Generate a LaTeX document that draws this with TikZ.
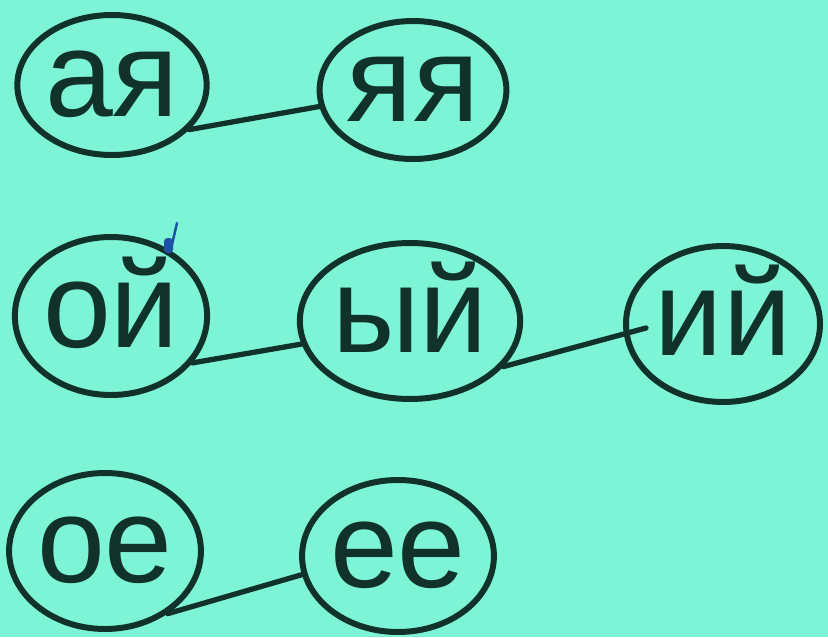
\documentclass[tikz,border=0pt]{standalone}
\usepackage{fontspec}
\newfontfamily\wordfont{Liberation Sans}
\usetikzlibrary{shapes.geometric}
\definecolor{mint}{RGB}{125,244,214}
\definecolor{ink}{RGB}{16,50,42}
\definecolor{penblue}{RGB}{30,80,165}
\begin{document}
\begin{tikzpicture}[line cap=round,line join=round,
		ring/.style 2 args={ellipse,draw=ink,line width=1.7pt,inner sep=0pt,minimum width=#1cm,minimum height=#2cm,text=ink,text height=18pt,text depth=0pt,font=\wordfont\fontsize{34.7}{40}\selectfont},
		link/.style={draw=ink,line width=1.5pt}]
				\fill[mint] (0,0) rectangle (8.28,6.37);
				\useasboundingbox (0,0) rectangle (8.28,6.37);
				\node[ring={1.86}{1.40}] (aya) at (1.12,5.52) {ая};
				\node[ring={1.84}{1.38}] (yaya) at (4.13,5.47) {яя};
				\node[ring={1.84}{1.58}] (oj) at (1.11,3.21) {ой};
				\node[ring={1.96}{1.56}] (yj) at (4.10,3.16) {ый};
				\node[ring={1.94}{1.56}] (ij) at (7.23,3.13) {ий};
				\node[ring={1.84}{1.56}] (oe) at (1.05,0.86) {ое};
				\node[ring={1.84}{1.52}] (ee) at (3.98,0.81) {ее};
				\draw[link] (aya.-30)--(yaya.190);
				\draw[link] (oj.-30)--(yj.192);
				\draw[link] (yj.-26)--([shift={(0.23,-0.04)}]ij.west);
				\draw[link] (oe.-45)--(ee.191);
				\fill[penblue,rounded corners=1pt] (1.64,3.84) rectangle (1.73,3.99);
				\draw[penblue,line width=0.7pt] (1.71,3.88)--(1.77,4.14);
			\end{tikzpicture}
\end{document}
